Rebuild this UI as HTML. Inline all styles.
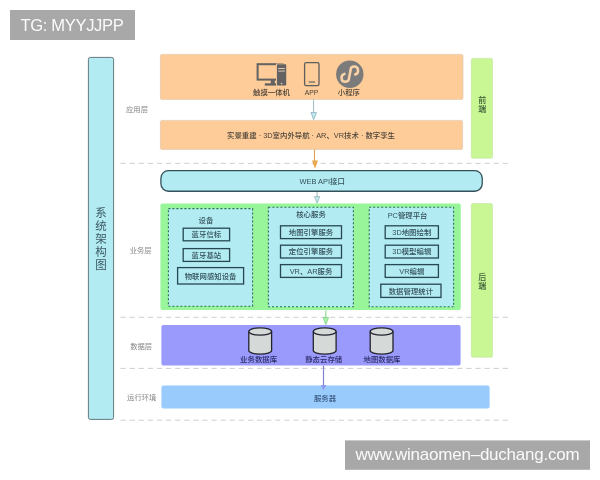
<!DOCTYPE html>
<html lang="zh">
<head>
<meta charset="utf-8">
<title>系统架构图</title>
<style>
html,body{margin:0;padding:0;background:#fff;}
body{width:600px;height:480px;overflow:hidden;position:relative;font-family:"Liberation Sans","Noto Sans CJK SC",sans-serif;}
svg{position:absolute;left:0;top:0;display:block;filter:blur(0.35px);}
svg text{font-family:"Liberation Sans","Noto Sans CJK SC",sans-serif;}
.t{font-size:7.4px;fill:#34505a;text-anchor:middle;font-weight:500;}
.tp{fill:#2c2c68;}
.to{fill:#4b4238;}
.tb{fill:#3a5a80;}
.lab{font-size:7.3px;fill:#868686;text-anchor:middle;font-weight:400;}
.bx{fill:none;stroke:#274852;stroke-width:1.3;}
.dash{stroke:#c8c8c8;stroke-width:0.9;stroke-dasharray:5.2 3.9;fill:none;}
.dot{fill:#b2ebf2;stroke:#2a6f55;stroke-width:1.1;stroke-dasharray:2 2;}
.cyl{fill:#d5d9d7;stroke:#23232f;stroke-width:1.3;}
</style>
</head>
<body>
<svg width="600" height="480" viewBox="0 0 600 480">
<rect width="600" height="480" fill="#ffffff"/>

<!-- top-left tag -->
<rect x="10" y="10" width="125" height="30" fill="#a8a8a8"/>
<text x="20.400" y="30.800" font-size="16.600" fill="#fafafa" textLength="103.400" lengthAdjust="spacing">TG: MYYJJPP</text>

<!-- left vertical bar -->
<rect x="88.400" y="57.400" width="25.200" height="362" rx="2" fill="#b2ebf2" stroke="#4a5a60" stroke-width="0.8"/>
<g font-size="11.500" fill="#3d5a64" text-anchor="middle">
<text x="101" y="217.200">系</text>
<text x="101" y="230.200">统</text>
<text x="101" y="243.200">架</text>
<text x="101" y="256.200">构</text>
<text x="101" y="269.200">图</text>
</g>

<!-- dashed separators -->
<line class="dash" x1="120.500" y1="163.400" x2="511.500" y2="163.400"/>
<line class="dash" x1="120.500" y1="317.300" x2="511.500" y2="317.300"/>
<line class="dash" x1="120.500" y1="368.400" x2="511.500" y2="368.400"/>
<line class="dash" x1="120.500" y1="420.200" x2="511.500" y2="420.200"/>

<!-- layer labels -->
<text class="lab" x="137" y="111.600">应用层</text>
<text class="lab" x="140.700" y="252.600">业务层</text>
<text class="lab" x="141.200" y="348.600">数据层</text>
<text class="lab" x="141.700" y="400.200">运行环境</text>

<!-- application layer -->
<rect x="160.400" y="54.400" width="302.600" height="45" rx="1.500" fill="#fdcc99" stroke="#dcc3a4" stroke-width="0.600"/>
<rect x="160.400" y="120.400" width="302.200" height="29" rx="1.500" fill="#fdcc99" stroke="#dcc3a4" stroke-width="0.600"/>

<!-- desktop icon -->
<g fill="#626262">
<rect x="257.600" y="64.200" width="25" height="15.400" fill="none" stroke="#626262" stroke-width="2"/>
<rect x="270.800" y="80" width="4" height="4"/>
<rect x="264.800" y="83.300" width="14" height="2.300"/>
<rect x="276" y="63.600" width="11" height="22.700" fill="#fdcc99"/>
<rect x="276.900" y="64.300" width="9.300" height="21.300" rx="0.800"/>
<rect x="278.200" y="68" width="6.700" height="0.900" fill="#e9d3bb"/>
<rect x="278.200" y="70.600" width="6.700" height="0.900" fill="#e9d3bb"/>
<circle cx="281.500" cy="83.600" r="0.800" fill="#e9d3bb"/>
</g>
<text class="t to" x="271.500" y="95.200">触摸一体机</text>

<!-- tablet icon -->
<rect x="304.600" y="62.600" width="14.400" height="23" rx="1.600" fill="none" stroke="#5e5e5e" stroke-width="1.300"/>
<line x1="308.700" y1="82" x2="315" y2="82" stroke="#5e5e5e" stroke-width="1.100"/>
<text class="t to" x="311.500" y="95.200" textLength="13.400" lengthAdjust="spacingAndGlyphs">APP</text>

<!-- mini program icon -->
<circle cx="349.800" cy="74.200" r="13.700" fill="#7b7b7b"/>
<path transform="translate(349.800 74.200)" d="M5.300,0.300 C9.600,-1 9.200,-7.600 4.400,-7.600 C1.600,-7.600 0.700,-5.400 0.700,-3.400 L-0.700,3.400 C-0.700,5.400 -1.600,7.600 -4.400,7.600 C-9.200,7.600 -9.600,1 -5.300,-0.300" fill="none" stroke="#fbd3a6" stroke-width="2.500" stroke-linecap="round"/>
<text class="t to" x="348.900" y="95.200">小程序</text>

<!-- arrow app -> line 2 -->
<line x1="313.600" y1="99.400" x2="313.600" y2="113" stroke="#9dbcc5" stroke-width="1"/>
<path d="M311,112.500 L316.400,112.500 L313.700,119.600 Z" fill="#c4e8f0" stroke="#93bac4" stroke-width="0.900"/>

<text class="t to" x="311" y="138.200">实景重建 · 3D室内外导航 · AR、VR技术 · 数字孪生</text>

<!-- orange arrow -->
<line x1="314.500" y1="149.400" x2="314.500" y2="161.500" stroke="#e0a050" stroke-width="1.100"/>
<path d="M312,160.500 L318,160.500 L315,168.800 Z" fill="#e9a84d"/>

<!-- web api -->
<rect x="160.900" y="170.650" width="321.350" height="20.600" rx="7.500" fill="#b2ebf2" stroke="#34505a" stroke-width="1.300"/>
<text class="t" x="322.200" y="184.200">WEB API接口</text>

<!-- arrow api -> business -->
<line x1="317.100" y1="191.800" x2="317.100" y2="197" stroke="#9ab8bc" stroke-width="1"/>
<path d="M314.500,196.600 L319.700,196.600 L317.100,203.200 Z" fill="#c2ecf0" stroke="#98b8bc" stroke-width="0.900"/>

<!-- business layer -->
<rect x="160.400" y="203.600" width="300.400" height="106.400" rx="2" fill="#98f59a"/>
<rect class="dot" x="168.400" y="208.600" width="84.200" height="97.600"/>
<rect class="dot" x="268.400" y="207.200" width="85" height="99.600"/>
<rect class="dot" x="369.200" y="207.200" width="84.400" height="99.600"/>

<text class="t" x="206" y="222.900">设备</text>
<rect class="bx" x="183.200" y="228.200" width="46.400" height="12.600"/>
<text class="t" x="206.400" y="237.200">蓝牙信标</text>
<rect class="bx" x="183.200" y="248.600" width="46.400" height="12.800"/>
<text class="t" x="206.400" y="257.700">蓝牙基站</text>
<rect class="bx" x="177.600" y="267.600" width="66" height="16.400"/>
<text class="t" x="210.600" y="278.500">物联网感知设备</text>

<text class="t" x="311" y="217.300">核心服务</text>
<rect class="bx" x="280.500" y="225.800" width="61" height="12.800"/>
<text class="t" x="311" y="234.900">地图引擎服务</text>
<rect class="bx" x="280.500" y="245.200" width="61" height="12.800"/>
<text class="t" x="311" y="254.300">定位引擎服务</text>
<rect class="bx" x="280.500" y="264.600" width="61" height="12.800"/>
<text class="t" x="311" y="273.700">VR、AR服务</text>

<text class="t" x="407.600" y="217.500">PC管理平台</text>
<rect class="bx" x="385.200" y="225.800" width="53.200" height="12.800"/>
<text class="t" x="411.800" y="234.900">3D地图绘制</text>
<rect class="bx" x="385.200" y="245.200" width="53.200" height="12.800"/>
<text class="t" x="411.800" y="254.300">3D模型编辑</text>
<rect class="bx" x="385.200" y="264.600" width="53.200" height="12.800"/>
<text class="t" x="411.800" y="273.700">VR编辑</text>
<rect class="bx" x="380.800" y="284.200" width="60.200" height="13.200"/>
<text class="t" x="410.900" y="293.500">数据管理统计</text>

<!-- side bars -->
<rect x="471.300" y="58.400" width="21.200" height="99.800" rx="1.500" fill="#c8f794" stroke="#bfe3a0" stroke-width="0.600"/>
<rect x="471.300" y="203.600" width="21.200" height="153.600" rx="1.500" fill="#c8f794" stroke="#bfe3a0" stroke-width="0.600"/>
<g font-size="8" fill="#3d5a36" text-anchor="middle" font-weight="500">
<text x="482.200" y="102.800">前</text>
<text x="482.200" y="111.800">端</text>
<text x="482.200" y="279.900">后</text>
<text x="482.200" y="288.900">端</text>
</g>

<!-- green arrow -->
<line x1="325.800" y1="310.500" x2="325.800" y2="318" stroke="#86d88a" stroke-width="1.100"/>
<path d="M323.200,317.600 L328.500,317.600 L325.800,324.600 Z" fill="#aef2b0" stroke="#80d484" stroke-width="0.900"/>

<!-- data layer -->
<rect x="161.400" y="325" width="299.200" height="40.400" rx="2" fill="#9a9afc"/>
<g class="cyl">
<path d="M248.80,331.5 L248.80,350.5 A11.4,3.65 0 0 0 271.60,350.5 L271.60,331.5"/>
<ellipse cx="260.20" cy="331.5" rx="11.4" ry="3.65"/>
<path d="M313.30,331.5 L313.30,350.5 A11.4,3.65 0 0 0 336.10,350.5 L336.10,331.5"/>
<ellipse cx="324.70" cy="331.5" rx="11.4" ry="3.65"/>
<path d="M370.20,331.5 L370.20,350.5 A11.4,3.65 0 0 0 393.00,350.5 L393.00,331.5"/>
<ellipse cx="381.60" cy="331.5" rx="11.4" ry="3.65"/>
</g>
<g fill="#2c2c68">
<text class="t tp" x="258.600" y="362.300">业务数据库</text>
<text class="t tp" x="323.700" y="362.300">静态云存储</text>
<text class="t tp" x="382" y="362.300">地图数据库</text>
</g>

<!-- purple arrow -->
<line x1="323.500" y1="365.600" x2="323.500" y2="386" stroke="#8282d2" stroke-width="1.200"/>

<!-- runtime -->
<rect x="161.400" y="385.400" width="328.200" height="23.200" rx="2" fill="#99cbfd"/>
<path d="M320.700,385 L326.300,385 L323.500,390 Z" fill="#8f97f2"/>
<text class="t tb" x="325" y="400.600">服务器</text>

<!-- watermark -->
<rect x="345" y="440.400" width="245" height="29.400" fill="#a8a8a8"/>
<text x="355.400" y="460.100" font-size="17" fill="#fafafa" textLength="224.200" lengthAdjust="spacing">www.winaomen–duchang.com</text>
</svg>
</body>
</html>
